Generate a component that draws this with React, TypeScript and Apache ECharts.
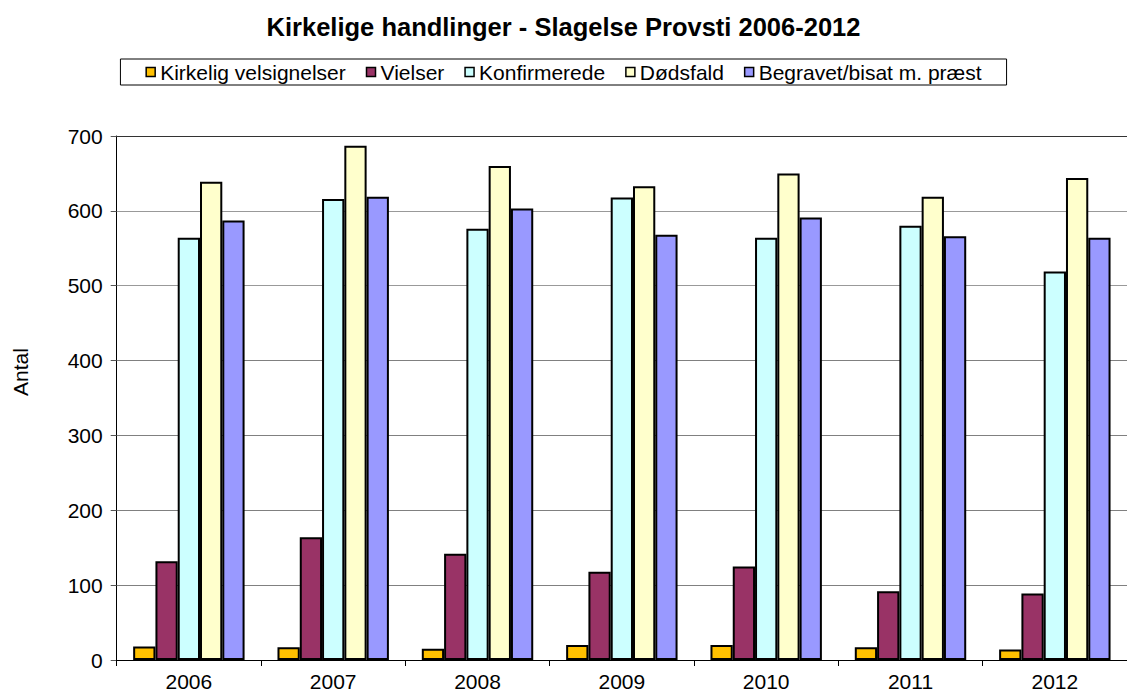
import React, { useEffect, useRef } from "react";
import * as echarts from "echarts";

const years = ["2006", "2007", "2008", "2009", "2010", "2011", "2012"];
const kirkelig = [18, 17, 15, 20, 20, 17, 14];
const vielser = [132, 164, 142, 118, 125, 92, 89];
const konfirmerede = [564, 616, 576, 618, 564, 580, 519];
const doedsfald = [639, 687, 660, 633, 650, 619, 644];
const begravet = [587, 619, 603, 568, 591, 566, 564];

const seriesNames = [
  "Kirkelig velsignelser",
  "Vielser",
  "Konfirmerede",
  "Dødsfald",
  "Begravet/bisat m. præst",
];
const seriesColors = ["#FFC000", "#993366", "#CCFFFF", "#FFFFCC", "#9999FF"];
const seriesData = [kirkelig, vielser, konfirmerede, doedsfald, begravet];

const FONT = "'Liberation Sans', Arial, Helvetica, sans-serif";

export default function App() {
  const ref = useRef<HTMLDivElement>(null);
  useEffect(() => {
    if (!ref.current) return;
    const chart = echarts.init(ref.current, null, { renderer: "svg" });
    chart.setOption({
      animation: false,
      backgroundColor: "#ffffff",
      textStyle: { fontFamily: FONT },
      title: {
        text: "Kirkelige handlinger - Slagelse Provsti 2006-2012",
        left: "center",
        top: 9,
        padding: [5, 0, 5, 24],
        textStyle: { fontFamily: FONT, fontSize: 25.5, fontWeight: "bold", color: "#000" },
      },
      legend: {
        left: "center",
        top: 59,
        data: seriesNames,
        icon: "rect",
        itemWidth: 9,
        itemHeight: 9,
        itemGap: 20,
        padding: [2, 25],
        borderColor: "#000",
        borderWidth: 1,
        itemStyle: { borderColor: "#000", borderWidth: 1.5 },
        textStyle: { fontFamily: FONT, fontSize: 21, color: "#000", lineHeight: 22 },
      },
      grid: { left: 116.7, right: -9, top: 136, bottom: 33, containLabel: false },
      xAxis: {
        type: "category",
        data: years,
        axisLine: { lineStyle: { color: "#000", width: 1 } },
        axisTick: { show: true, length: 6, lineStyle: { color: "#000" } },
        axisLabel: { fontFamily: FONT, fontSize: 21, color: "#000", margin: 11 },
      },
      yAxis: {
        type: "value",
        min: 0,
        max: 700,
        interval: 100,
        axisLine: { show: true, lineStyle: { color: "#000", width: 1 } },
        axisTick: { show: true, length: 6, lineStyle: { color: "#555" } },
        axisLabel: { fontFamily: FONT, fontSize: 21, color: "#000", margin: 14 },
        splitLine: {
          show: true,
          lineStyle: {
            color: ["#000", "#808080", "#808080", "#808080", "#808080", "#999", "#999", "#333"],
            width: 1,
          },
        },
      },
      graphic: [
        {
          type: "text",
          x: 20,
          y: 372,
          rotation: Math.PI / 2,
          style: {
            text: "Antal",
            fontFamily: FONT,
            fontSize: 21,
            fill: "#000",
            align: "center",
            verticalAlign: "middle",
          },
        },
      ],
      series: seriesNames.map((name, i) => ({
        name,
        type: "bar",
        data: seriesData[i],
        barGap: "0%",
        barCategoryGap: "22.8%",
        itemStyle: { color: seriesColors[i], borderColor: "#000", borderWidth: 2 },
      })),
    });
    return () => chart.dispose();
  }, []);
  return (
    <div
      ref={ref}
      style={{ position: "absolute", left: 0, top: 0, width: 1127, height: 693 }}
    />
  );
}
